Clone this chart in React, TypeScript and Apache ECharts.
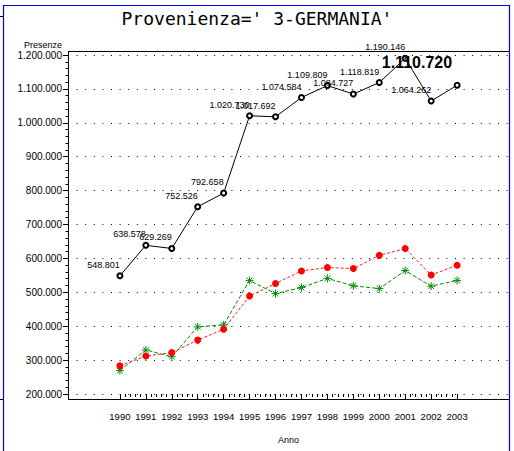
import React, { useEffect, useRef } from "react";
import * as echarts from "echarts";

const years = [1990, 1991, 1992, 1993, 1994, 1995, 1996, 1997, 1998, 1999, 2000, 2001, 2002, 2003];
const totalValues = [548801, 638578, 629269, 752526, 792658, 1020730, 1017692, 1074584, 1109809, 1084727, 1118819, 1190146, 1064262, 1110720];
const redValues = [283000, 312000, 322000, 359000, 391000, 489000, 526000, 563000, 573000, 570000, 609000, 629000, 551000, 580000];
const greenValues = [269000, 330000, 310000, 398000, 404000, 535000, 496000, 514000, 541000, 519000, 511000, 564000, 518000, 535000];
const yMin = 200000;
const yMax = 1200000;
const yStep = 100000;
const titleText = "Provenienza=' 3-GERMANIA'";
const yName = "Presenze";
const xName = "Anno";

const fmt = (v: number) => String(Math.round(v)).replace(/\B(?=(\d{3})+(?!\d))/g, ".");

const SANS = "'Liberation Sans', Arial, sans-serif";

const asterisk = "path://M5,0L5,10M0,5L10,5M1.5,1.5L8.5,8.5M1.5,8.5L8.5,1.5";

export default function App() {
  const ref = useRef<HTMLDivElement>(null);
  useEffect(() => {
    if (!ref.current) return;
    const chart = echarts.init(ref.current, null, { renderer: "svg" });
    const last = years.length - 1;
    const blackData = years.map((y, i) =>
      i === last
        ? {
            value: [y, totalValues[i]],
            label: { fontSize: 16, fontWeight: "bold", fontFamily: SANS, offset: [-5, -8] },
          }
        : { value: [y, totalValues[i]] }
    );
    chart.setOption({
      animation: false,
      backgroundColor: "#ffffff",
      title: {
        text: titleText,
        left: "center",
        top: 4,
        textStyle: { fontFamily: "'DejaVu Sans Mono', monospace", fontSize: 18, fontWeight: "normal", color: "#000" },
      },
      grid: [
        { left: 68, right: 5, top: 55, bottom: 57 },
        { left: 119.88, right: 56.88, top: 55, bottom: 57 },
      ],
      xAxis: [
        { gridIndex: 0, type: "value", min: 1988, max: 2005, show: false },
        {
          gridIndex: 1,
          type: "value",
          min: 1990,
          max: 2003,
          interval: 1,
          offset: 5,
          axisLine: { show: false },
          axisTick: { show: true, length: 6, lineStyle: { color: "#000", width: 1 } },
          minorTick: { show: true, splitNumber: 5, length: 3, lineStyle: { color: "#000", width: 1 } },
          splitLine: { show: false },
          axisLabel: {
            margin: 12,
            color: "#000",
            fontFamily: SANS,
            fontSize: 9.5,
            formatter: (v: number) => String(v),
          },
          name: xName,
          nameLocation: "middle",
          nameGap: 36,
          nameTextStyle: { fontFamily: SANS, fontSize: 9, color: "#000" },
        },
      ],
      yAxis: [
        {
          gridIndex: 0,
          type: "value",
          min: yMin,
          max: yMax,
          interval: yStep,
          axisLine: { show: false },
          axisTick: { show: true, length: 5, lineStyle: { color: "#000", width: 1 } },
          minorTick: { show: true, splitNumber: 5, length: 2.5, lineStyle: { color: "#000", width: 1 } },
          splitLine: { show: true, lineStyle: { color: "#000", width: 1, type: [1, 7.6] } },
          axisLabel: { margin: 6, color: "#000", fontFamily: SANS, fontSize: 10, formatter: (v: number) => fmt(v) },
          name: yName,
          nameLocation: "end",
          nameGap: 6,
          nameTextStyle: { fontFamily: SANS, fontSize: 9, color: "#000", align: "right", padding: [0, 6, 0, 0] },
        },
        { gridIndex: 1, type: "value", min: 0, max: 1, show: false },
      ],
      graphic: [
        { type: "line", shape: { x1: 3.5, y1: 5, x2: 3.5, y2: 451 }, style: { stroke: "#0000ee", lineWidth: 1.2 } },
        { type: "line", shape: { x1: 3, y1: 5.5, x2: 509, y2: 5.5 }, style: { stroke: "#0000ee", lineWidth: 1.2 } },
        { type: "line", shape: { x1: 509.5, y1: 5, x2: 509.5, y2: 451 }, style: { stroke: "#0000ee", lineWidth: 1.2 } },
        { type: "line", shape: { x1: 0, y1: 16.5, x2: 3, y2: 16.5 }, style: { stroke: "#000", lineWidth: 1 } },
        { type: "line", shape: { x1: 0, y1: 399.5, x2: 3, y2: 399.5 }, style: { stroke: "#000", lineWidth: 1 } },
        { type: "line", shape: { x1: 68.5, y1: 51, x2: 68.5, y2: 399.5 }, style: { stroke: "#000", lineWidth: 1 } },
        { type: "line", shape: { x1: 68, y1: 51.5, x2: 509, y2: 51.5 }, style: { stroke: "#000", lineWidth: 1 } },
        { type: "line", shape: { x1: 68, y1: 399.5, x2: 509, y2: 399.5 }, style: { stroke: "#000", lineWidth: 1 } },
      ],
      series: [
        {
          type: "line",
          xAxisIndex: 0,
          yAxisIndex: 0,
          data: years.map((y, i) => [y, greenValues[i]]),
          symbol: asterisk,
          symbolSize: 8,
          itemStyle: { color: "#009000", borderColor: "#009000", borderWidth: 1 },
          lineStyle: { color: "#009000", width: 1, type: [4, 2] },
          z: 2,
        },
        {
          type: "line",
          xAxisIndex: 0,
          yAxisIndex: 0,
          data: years.map((y, i) => [y, redValues[i]]),
          symbol: "circle",
          symbolSize: 7,
          itemStyle: { color: "#ff0000" },
          lineStyle: { color: "#ff2020", width: 1, type: [3, 2] },
          z: 3,
        },
        {
          type: "line",
          xAxisIndex: 0,
          yAxisIndex: 0,
          data: blackData,
          symbol: "emptyCircle",
          symbolSize: 5,
          itemStyle: { color: "#000", borderColor: "#000", borderWidth: 1 },
          lineStyle: { color: "#000", width: 1 },
          label: {
            show: true,
            position: "top",
            align: "right",
            distance: 3,
            color: "#000",
            fontFamily: SANS,
            fontSize: 9,
            formatter: (p: any) => fmt(p.value[1]),
          },
          z: 4,
        },
      ],
    });
    return () => chart.dispose();
  }, []);
  return <div ref={ref} style={{ position: "fixed", left: 0, top: 0, width: 514, height: 451 }} />;
}
